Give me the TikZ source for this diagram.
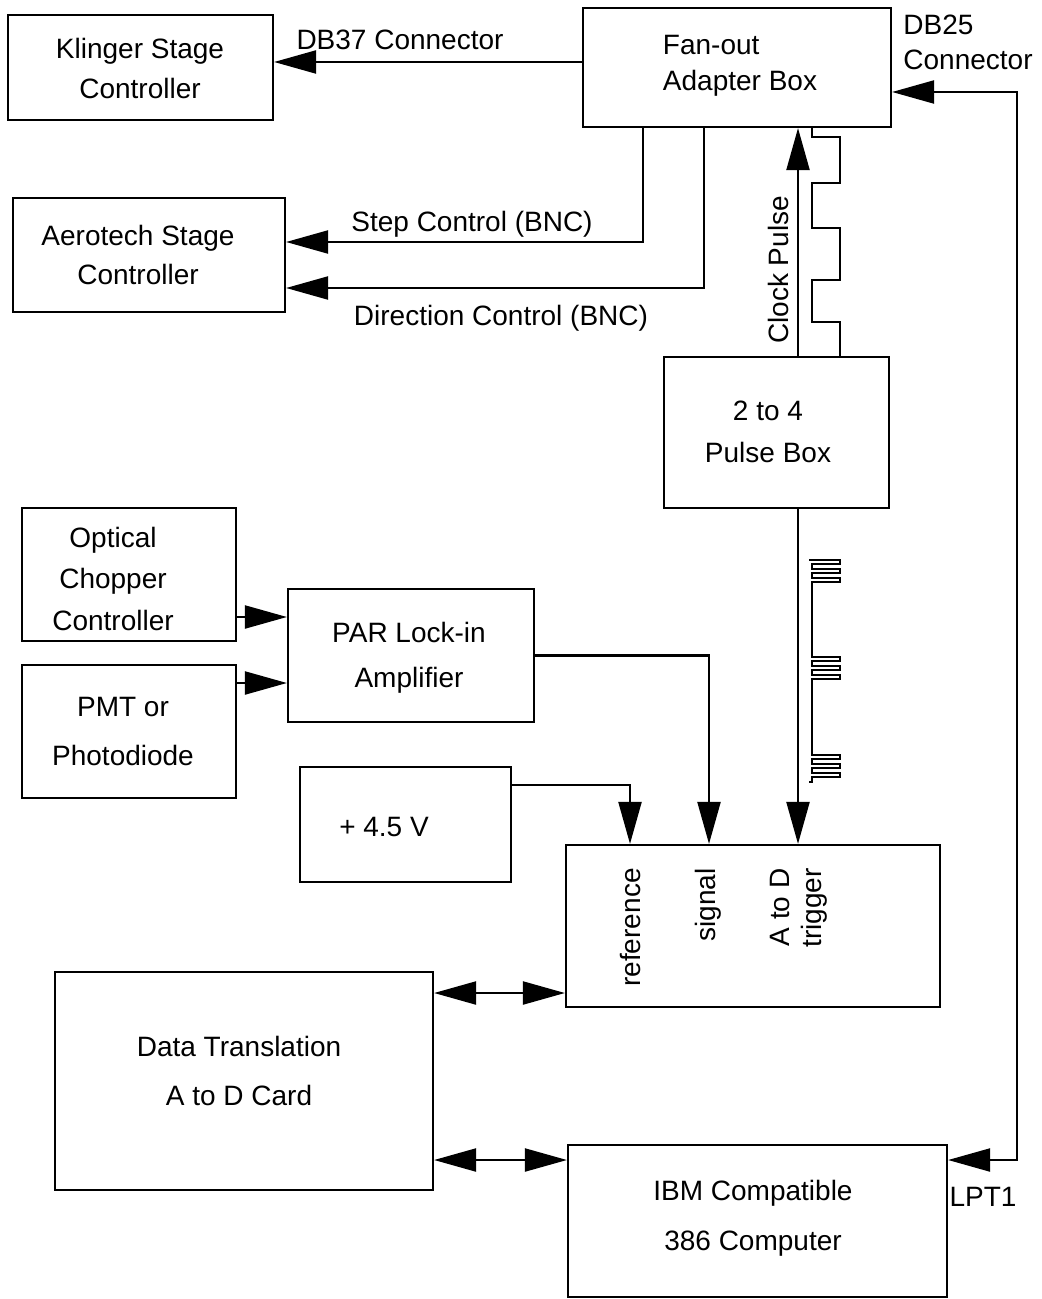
\documentclass[tikz,border=0pt]{standalone}
\usepackage{fontspec}
\setmainfont{Liberation Sans}
\usetikzlibrary{arrows.meta,calc}
\tikzset{
 box/.style={draw, line width=1.1pt, inner sep=0pt},
 lbl/.style={font=\fontsize{14}{17}\selectfont, inner sep=0pt, align=center},
 tip/.tip={Triangle[length=21pt,width=11.5pt]},
 arr/.style={line width=1.1pt, -tip},
 arrb/.style={line width=1.1pt, tip-tip},
 wave/.style={line width=1pt},
 wavethin/.style={line width=0.8pt},
}
\begin{document}
\begin{tikzpicture}[x=0.5pt,y=-0.5pt]
\useasboundingbox (0,0) rectangle (1042,1299);

% boxes
\node[box, minimum width=132.5pt, minimum height=52.5pt] (klinger) at (140.5,67.5) {};
\node[box, minimum width=154pt, minimum height=59.5pt] (fanout) at (737,67.5) {};
\node[box, minimum width=136pt, minimum height=57pt] (aero) at (149,255) {};
\node[box, minimum width=112.5pt, minimum height=75.5pt] (pulse) at (776.5,432.5) {};
\node[box, minimum width=107pt, minimum height=66.5pt] (chopper) at (129,574.5) {};
\node[box, minimum width=107pt, minimum height=66.5pt] (pmt) at (129,731.5) {};
\node[box, minimum width=123pt, minimum height=66.5pt] (par) at (411,655.5) {};
\node[box, minimum width=105.5pt, minimum height=57.5pt] (volt) at (405.5,824.5) {};
\node[box, minimum width=187pt, minimum height=81pt] (adbox) at (753,926) {};
\node[box, minimum width=189pt, minimum height=109pt] (dt) at (244,1081) {};
\node[box, minimum width=189.5pt, minimum height=76pt] (ibm) at (757.5,1221) {};

% box texts
\node[lbl] (tklinger) at (140,68) {Klinger Stage\\[3pt]Controller};
\node[lbl, align=left] (tfanout) at (740,66) {Fan-out\\[1pt]Adapter Box};
\node[lbl] (taero) at (138,254.5) {Aerotech Stage\\[2.5pt]Controller};
\node[lbl] (tpulse) at (768,432) {2 to 4\\[4pt]Pulse Box};
\node[lbl] (tchopper) at (113,578.5) {Optical\\[3.75pt]Chopper\\[3.75pt]Controller};
\node[lbl] (tpmt) at (123,731.5) {PMT or\\[7.5pt]Photodiode};
\node[lbl] (tpar) at (409,657.5) {PAR Lock-in\\[5.5pt]Amplifier};
\node[lbl] (tvolt) at (384,827) {+ 4.5 V};
\node[lbl] (tdt) at (239,1070.5) {Data Translation\\[7.5pt]A to D Card};
\node[lbl] (tibm) at (753,1218) {IBM Compatible\\[8pt]386 Computer};
\node[lbl, rotate=90, anchor=east] (tref) at (630,868) {reference};
\node[lbl, rotate=90, anchor=east] (tsig) at (708,868) {signal};
\node[lbl, rotate=90, anchor=east, align=right] (ttrg) at (799,868) {A to D\\[-1pt]trigger};

% connector labels
\node[lbl] (ldb37) at (400,40) {DB37 Connector};
\node[lbl, align=left, anchor=west] (ldb25) at (903,42.5) {DB25\\[0.5pt]Connector};
\node[lbl] (lstep) at (472,224) {Step Control (BNC)};
\node[lbl] (ldir) at (501,318) {Direction Control (BNC)};
\node[lbl, rotate=90] (lclk) at (778,270) {Clock Pulse};
\node[lbl] (llpt) at (983,1197) {LPT1};

% connectors
\coordinate (db37s) at ([yshift=2.75pt]fanout.west);
\draw[arr] (db37s) -- (db37s -| klinger.east);

\coordinate (stepS) at ([xshift=-47pt]fanout.south);
\coordinate (stepE) at ([yshift=6.5pt]aero.east);
\draw[arr] (stepS) |- (stepE);

\coordinate (dirS) at ([xshift=-16.5pt]fanout.south);
\coordinate (dirE) at ([yshift=-16.5pt]aero.east);
\draw[arr] (dirS) |- (dirE);

\coordinate (clkS) at ([xshift=10.75pt]pulse.north);
\draw[arr] (clkS) -- (clkS |- fanout.south);

\coordinate (trgS) at ([xshift=10.75pt]pulse.south);
\draw[arr] (trgS) -- (trgS |- adbox.north);

\coordinate (sigE) at ([xshift=-22pt]adbox.north);
\draw[arr] (par.east) -| (sigE);

\coordinate (refS) at ([yshift=19.75pt]volt.east);
\coordinate (refE) at ([xshift=-61.5pt]adbox.north);
\draw[arr] (refS) -| (refE);

\coordinate (chS) at ([yshift=-21.25pt]chopper.east);
\draw[arr] (chS) -- (chS -| par.west);
\coordinate (pmS) at ([yshift=24.25pt]pmt.east);
\draw[arr] (pmS) -- (pmS -| par.west);

\coordinate (adL) at ([yshift=-33.5pt]adbox.west);
\draw[arrb] (adL -| dt.east) -- (adL);
\coordinate (ibL) at ([yshift=30.5pt]ibm.west);
\draw[arrb] (ibL -| dt.east) -- (ibL);

\coordinate (ibR) at ([yshift=30.5pt]ibm.east);
\coordinate (faR) at ([yshift=-12.25pt]fanout.east);
\coordinate (rc) at (1017,92);
\draw[arrb] (faR) -- (rc) |- (ibR);

% clock waveform
\draw[wave] (812,127) -- (812,137) -- (840,137) -- (840,183) -- (812,183) -- (812,228) -- (840,228) -- (840,280) -- (812,280) -- (812,322) -- (840,322) -- (840,357);

% trigger pulse train
\draw[wavethin] (809,560)
  \foreach \g in {560,657,755} {
    -- (812,\g)
    -- (840,\g) -- (840,\g+4) -- (812,\g+4) -- (812,\g+9)
    -- (840,\g+9) -- (840,\g+13) -- (812,\g+13) -- (812,\g+18)
    -- (840,\g+18) -- (840,\g+22) -- (812,\g+22)
  } -- (812,782) -- (809,782);
\end{tikzpicture}
\end{document}
